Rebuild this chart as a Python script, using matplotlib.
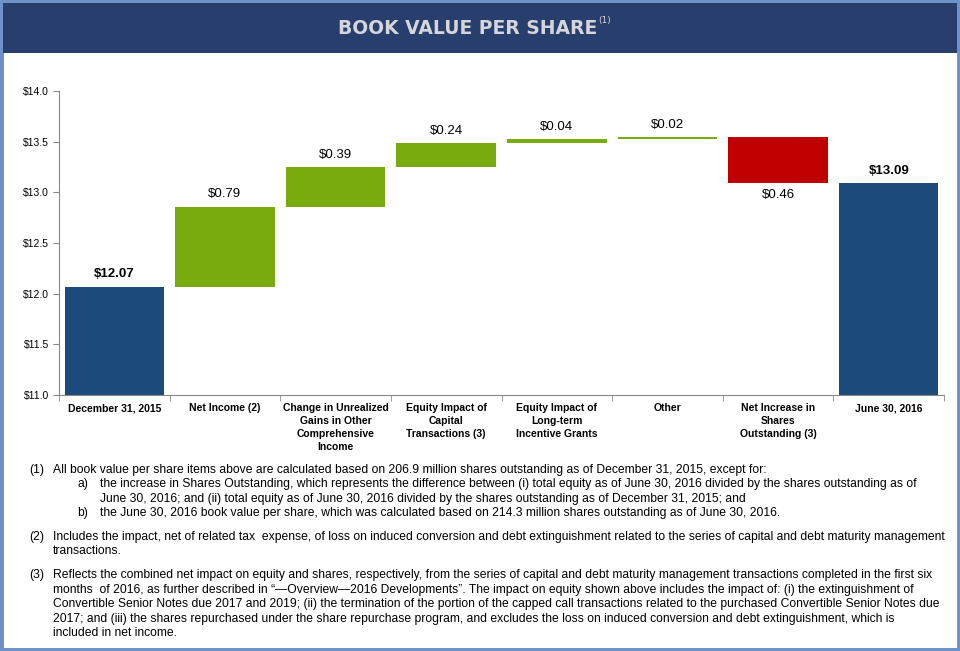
import matplotlib
matplotlib.use("Agg")
import matplotlib.pyplot as plt
from matplotlib.patches import Rectangle
from matplotlib.ticker import FuncFormatter, FixedLocator

categories = ["December 31, 2015", "Net Income (2)",
              "Change in Unrealized\nGains in Other\nComprehensive\nIncome",
              "Equity Impact of\nCapital\nTransactions (3)",
              "Equity Impact of\nLong-term\nIncentive Grants",
              "Other", "Net Increase in\nShares\nOutstanding (3)", "June 30, 2016"]
changes = [12.07, 0.79, 0.39, 0.24, 0.04, 0.02, -0.46, 13.09]
kinds = ["total", "inc", "inc", "inc", "inc", "inc", "dec", "total"]
yticks = [11.0, 11.5, 12.0, 12.5, 13.0, 13.5, 14.0]

footnotes = [
    ("(1)", "All book value per share items above are calculated based on 206.9 million shares outstanding as of December 31, 2015, except for:"),
    ("a)", "the increase in Shares Outstanding, which represents the difference between (i) total equity as of June 30, 2016 divided by the shares outstanding as of\nJune 30, 2016; and (ii) total equity as of June 30, 2016 divided by the shares outstanding as of December 31, 2015; and"),
    ("b)", "the June 30, 2016 book value per share, which was calculated based on 214.3 million shares outstanding as of June 30, 2016."),
    ("(2)", "Includes the impact, net of related tax  expense, of loss on induced conversion and debt extinguishment related to the series of capital and debt maturity management\ntransactions."),
    ("(3)", "Reflects the combined net impact on equity and shares, respectively, from the series of capital and debt maturity management transactions completed in the first six\nmonths  of 2016, as further described in \u201c\u2014Overview\u20142016 Developments\u201d. The impact on equity shown above includes the impact of: (i) the extinguishment of\nConvertible Senior Notes due 2017 and 2019; (ii) the termination of the portion of the capped call transactions related to the purchased Convertible Senior Notes due\n2017; and (iii) the shares repurchased under the share repurchase program, and excludes the loss on induced conversion and debt extinguishment, which is\nincluded in net income."),
]

NAVY = "#1c4a7b"
GREEN = "#78ac0e"
RED = "#c00000"
FONT = "Liberation Sans"

W, H = 960, 651
fig = plt.figure(figsize=(9.6, 6.51), dpi=100)
fig.patch.set_facecolor("white")

# frame and title band
fig.add_artist(Rectangle((0, 0), 1, 1, transform=fig.transFigure, facecolor="none",
                         edgecolor="#6e92c8", linewidth=5))
fig.add_artist(Rectangle((3 / W, 1 - 53 / H), 954 / W, 50 / H, transform=fig.transFigure,
                         facecolor="#283e6d", edgecolor="none"))
fig.text(468 / W, 1 - 28 / H, "BOOK VALUE PER SHARE", ha="center", va="center",
         color="#d4d6db", fontsize=13.5, fontweight="bold", family="DejaVu Sans")
fig.text(598 / W, 1 - 21 / H, "(1)", ha="left", va="center", color="#d4d6db",
         fontsize=6.5, family="DejaVu Sans")

ax = fig.add_axes([59 / W, 1 - 395 / H, 885 / W, 304 / H])
n = len(categories)
x = list(range(n))
bottoms, heights, colors = [], [], []
running = 0.0
for c, k in zip(changes, kinds):
    if k == "total":
        bottoms.append(0)
        heights.append(c)
        colors.append(NAVY)
        running = c
    elif k == "inc":
        bottoms.append(running)
        heights.append(c)
        colors.append(GREEN)
        running += c
    else:
        bottoms.append(running + c)
        heights.append(-c)
        colors.append(RED)
        running += c

ax.bar(x, heights, bottom=bottoms, width=0.9, color=colors, edgecolor="none")

for i, (c, k) in enumerate(zip(changes, kinds)):
    top = bottoms[i] + heights[i]
    if k == "total":
        ax.text(i, top + 0.06, f"${c:.2f}", ha="center", va="bottom", fontsize=9.5,
                fontweight="bold", family=FONT)
    elif k == "inc":
        ax.text(i, top + 0.06, f"${c:.2f}", ha="center", va="bottom", fontsize=9.5, family=FONT)
    else:
        ax.text(i, bottoms[i] - 0.06, f"${-c:.2f}", ha="center", va="top", fontsize=9.5, family=FONT)

ax.set_xlim(-0.5, n - 0.5)
ax.set_ylim(11.0, 14.0)
ax.set_yticks(yticks)
ax.yaxis.set_major_formatter(FuncFormatter(lambda v, p: f"${v:.1f}"))
ax.set_xticks(x)
ax.set_xticklabels(categories, fontsize=7.5, fontweight="bold", family=FONT, linespacing=1.35)
ax.tick_params(axis="x", length=0, pad=6)
ax.xaxis.set_minor_locator(FixedLocator([i + 0.5 for i in range(-1, n)]))
ax.tick_params(axis="x", which="minor", length=4, color="#888888", direction="out")
ax.tick_params(axis="y", length=4, color="#888888", labelsize=7.5, pad=3)
for lab in ax.get_yticklabels():
    lab.set_family(FONT)
for s in ["top", "right"]:
    ax.spines[s].set_visible(False)
for s in ["left", "bottom"]:
    ax.spines[s].set_color("#888888")
    ax.spines[s].set_linewidth(0.8)

# footnotes, drawn line by line
FS = 8.7
LINE = 14.4
y = 470
for marker, text in footnotes:
    if marker.startswith("("):
        xm, xt = 29, 53
    else:
        xm, xt = 77, 100
    fig.text(xm / W, 1 - y / H, marker, ha="left", va="center", fontsize=FS, family=FONT)
    for j, line in enumerate(text.split("\n")):
        fig.text(xt / W, 1 - y / H, line, ha="left", va="center", fontsize=FS, family=FONT)
        y += LINE
    if marker in ("b)", "(2)"):
        y += 9.5

fig.savefig("out.png", dpi=100)
